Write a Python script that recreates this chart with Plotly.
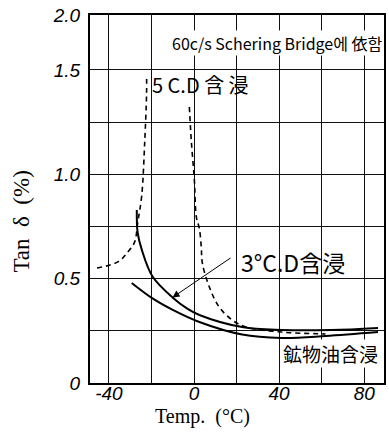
import plotly.graph_objects as go

# ---- data ----
temp_mineral = [-29.3, -19.5, -10.0, 2.5, 22.6, 41.2, 61.8, 86.5]
tan_mineral = [0.479, 0.405, 0.350, 0.292, 0.232, 0.216, 0.225, 0.244]

temp_3cd = [-26.9, -26.5, -24.6, -19.5, -10.1, -3.0, 2.5, 22.6, 41.2, 64.6, 86.5]
tan_3cd = [0.829, 0.720, 0.640, 0.510, 0.410, 0.355, 0.326, 0.268, 0.254, 0.254, 0.264]

temp_5cd_left = [-45.6, -35.8, -31.1, -27.9, -26.5, -24.6, -23.2, -22.3, -22.3]
tan_5cd_left = [0.551, 0.580, 0.628, 0.676, 0.767, 0.896, 1.150, 1.390, 1.476]

temp_5cd_right = [-2.2, -1.3, 0.15, 1.1, 2.5, 3.4, 3.9, 7.2, 11.8, 17.9, 24.4, 41.2, 61.8]
tan_5cd_right = [1.322, 1.164, 0.973, 0.795, 0.740, 0.652, 0.575, 0.460, 0.364, 0.302, 0.268, 0.244, 0.235]

x_tickvals = [-40, -20, 0, 20, 40, 60, 80]
x_ticktext = ["-40", "", "0", "", "40", "", "80"]
y_tickvals = [0, 0.25, 0.5, 0.75, 1.0, 1.25, 1.5, 1.762]
y_ticktext = ["0", "", "0.5", "", "1.0", "", "1.5", "2.0"]

fig = go.Figure()
fig.add_trace(go.Scatter(x=temp_mineral, y=tan_mineral, mode="lines", line_shape="spline",
                         line=dict(color="black", width=2), name="鉱物油含浸"))
fig.add_trace(go.Scatter(x=temp_3cd, y=tan_3cd, mode="lines", line_shape="spline",
                         line=dict(color="black", width=2), name="3°C.D含浸"))
fig.add_trace(go.Scatter(x=temp_5cd_left, y=tan_5cd_left, mode="lines", line_shape="spline",
                         line=dict(color="black", width=1.6, dash="5px,4px"), name="5C.D含浸 a"))
fig.add_trace(go.Scatter(x=temp_5cd_right, y=tan_5cd_right, mode="lines", line_shape="spline",
                         line=dict(color="black", width=1.6, dash="5px,4px"), name="5C.D含浸 b"))

tickfont = dict(family="Liberation Sans Narrow, Liberation Sans", size=19, color="black", style="italic")

fig.update_layout(
    width=389, height=432,
    margin=dict(l=90, r=3, t=15, b=49),
    paper_bgcolor="white", plot_bgcolor="white",
    showlegend=False,
    xaxis=dict(range=[-48.9, 89.3], tickvals=x_tickvals, ticktext=x_ticktext,
               showgrid=True, gridcolor="#111", gridwidth=1.3, zeroline=False,
               showline=True, linecolor="black", linewidth=2, mirror=True,
               ticks="", tickfont=tickfont, ticklabelstandoff=-8,
               ticklabeloverflow="allow"),
    yaxis=dict(range=[0, 1.763], tickvals=y_tickvals, ticktext=y_ticktext,
               showgrid=True, gridcolor="#111", gridwidth=1.3, zeroline=False,
               showline=True, linecolor="black", linewidth=2, mirror=True,
               ticks="", tickfont=tickfont, ticklabelstandoff=4,
               ticklabeloverflow="allow"),
)

ann = []
ann.append(dict(text="60c/s Schering Bridge에 依함", xref="paper", yref="paper",
                x=1.0, y=0.924, xanchor="right", yanchor="middle", showarrow=False,
                bgcolor="white", borderpad=0,
                font=dict(family="Noto Sans CJK KR", size=16, color="black")))
ann.append(dict(text="5 C.D 含 浸", xref="paper", yref="paper",
                x=0.203, y=0.81, xanchor="left", yanchor="middle", showarrow=False,
                font=dict(family="Noto Sans CJK JP", size=20, color="black")))
ann.append(dict(text="3°C.D含浸", xref="paper", yref="paper",
                x=0.507, y=0.329, xanchor="left", yanchor="middle", showarrow=False,
                font=dict(family="Noto Sans CJK JP", size=23, color="black")))
ann.append(dict(text="鉱物油含浸", xref="paper", yref="paper",
                x=0.652, y=0.0815, xanchor="left", yanchor="middle", showarrow=False,
                bgcolor="white", borderpad=0,
                font=dict(family="Noto Sans CJK JP", size=19, color="black")))
ann.append(dict(text="", x=-10.1, y=0.41, ax=17.9, ay=0.604, axref="x", ayref="y",
                xref="x", yref="y", showarrow=True, arrowhead=2, arrowsize=1.4,
                arrowwidth=1, arrowcolor="black"))
ann.append(dict(text="Temp.  (°C)", xref="paper", yref="paper", x=0.382, y=-0.09,
                xanchor="center", yanchor="middle", showarrow=False,
                font=dict(family="Liberation Serif", size=20, color="black")))
ann.append(dict(text="Tan  δ  (%)", xref="paper", yref="paper", x=-0.236, y=0.4375,
                xanchor="center", yanchor="middle", showarrow=False, textangle=-90,
                font=dict(family="Liberation Serif", size=23, color="black")))
fig.update_layout(annotations=ann)

# remove the page's default 8px body margin so the figure fills the window exactly
fig.write_html("out.html",
               config={"displayModeBar": False},
               post_script="document.body.style.margin='0';document.body.style.overflow='hidden';")
